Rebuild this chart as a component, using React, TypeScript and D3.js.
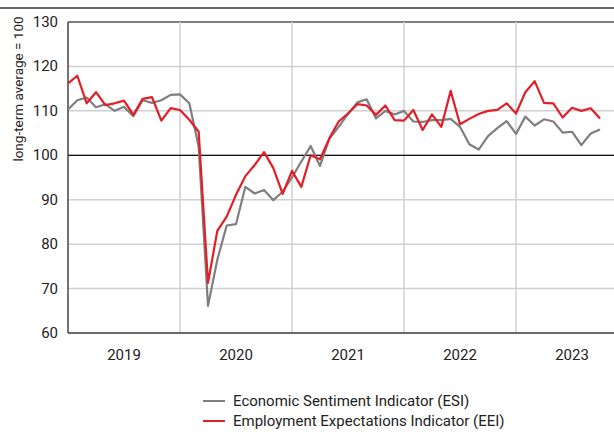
import React from "react";
import * as d3 from "d3";

const startYear = 2019;
const yearLabels = ["2019", "2020", "2021", "2022", "2023"];
const yTicks = [60, 70, 80, 90, 100, 110, 120, 130];

// Monthly values, Jan 2019 – Oct 2023
const esiValues = [
  110.3, 112.4, 113.0, 110.8, 111.5, 110.0, 110.9, 108.8, 112.4, 111.8, 112.4, 113.6,
  113.7, 111.7, 101.9, 66.1, 76.5, 84.2, 84.5, 92.9, 91.4, 92.2, 89.9, 91.8,
  95.0, 98.6, 102.1, 97.6, 103.7, 106.4, 109.3, 111.9, 112.6, 108.3, 110.0, 109.2,
  110.0, 107.6, 107.5, 107.9, 107.9, 108.2, 106.4, 102.5, 101.3, 104.3, 106.1, 107.7,
  104.8, 108.7, 106.7, 108.1, 107.6, 105.1, 105.3, 102.3, 104.9, 105.8,
];
const eeiValues = [
  116.2, 117.9, 111.7, 114.2, 111.3, 111.7, 112.3, 109.1, 112.7, 113.1, 107.8, 110.6,
  110.2, 108.0, 105.3, 71.3, 83.0, 86.2, 91.1, 95.3, 97.8, 100.7, 97.1, 91.3,
  96.5, 92.9, 100.0, 99.1, 103.8, 107.6, 109.4, 111.5, 111.2, 109.1, 111.2, 107.9,
  107.8, 110.2, 105.7, 109.2, 106.4, 114.5, 107.0, 108.2, 109.3, 110.0, 110.2, 111.7,
  109.4, 114.2, 116.7, 111.8, 111.7, 108.5, 110.7, 110.0, 110.6, 108.3,
];

const seriesNames = ["Economic Sentiment Indicator (ESI)", "Employment Expectations Indicator (EEI)"];
const seriesColors = ["#7f7f7f", "#e31e26"];

const W = 614;
const H = 434;
const M = { left: 68, right: 614, top: 22, bottom: 333 };
const FONT = "'Liberation Sans Narrow', 'Roboto', 'Liberation Sans', sans-serif";

export default function App() {
  const x = d3
    .scaleLinear()
    .domain([0, 12 * yearLabels.length])
    .range([M.left, M.left + 112 * yearLabels.length]);
  const y = d3.scaleLinear().domain([60, 130]).range([M.bottom, M.top]);

  const line = d3
    .line<number>()
    .x((_, i) => x(i))
    .y((d) => y(d))
    .curve(d3.curveLinear);

  const yearBounds = d3.range(1, yearLabels.length);

  return (
    <svg
      width={W}
      height={H}
      style={{ position: "absolute", left: 0, top: 0, fontFamily: FONT }}
    >
      <rect x={0} y={0} width={W} height={H} fill="#fff" />
      <line x1={0} x2={W} y1={8} y2={8} stroke="#333" strokeWidth={1.5} />

      {/* horizontal grid */}
      {yTicks.map((t) => (
        <line
          key={"g" + t}
          x1={M.left}
          x2={M.right}
          y1={y(t)}
          y2={y(t)}
          stroke={t === 130 ? "#555" : "#d0d0d0"}
          strokeWidth={t === 130 ? 1.5 : 1.5}
        />
      ))}
      {/* vertical grid */}
      {yearBounds.map((b) => (
        <line
          key={"v" + b}
          x1={x(b * 12)}
          x2={x(b * 12)}
          y1={M.top}
          y2={M.bottom}
          stroke="#d0d0d0"
          strokeWidth={1.5}
        />
      ))}
      {/* 100 reference */}
      <line x1={M.left} x2={M.right} y1={y(100)} y2={y(100)} stroke="#111" strokeWidth={1.3} />

      {/* axes */}
      <line x1={M.left} x2={M.left} y1={M.top} y2={M.bottom} stroke="#444" strokeWidth={1.5} />
      <line x1={M.left} x2={M.right} y1={M.bottom} y2={M.bottom} stroke="#444" strokeWidth={1.5} />

      {/* y tick labels */}
      {yTicks.map((t) => (
        <text
          key={"t" + t}
          x={58}
          y={y(t)}
          textAnchor="end"
          dominantBaseline="central"
          fontSize={15}
          fill="#222"
        >
          {t}
        </text>
      ))}
      <text
        transform={`translate(18,${89}) rotate(-90)`}
        textAnchor="middle"
        dominantBaseline="central"
        fontSize={13.5}
        fill="#222"
      >
        long-term average = 100
      </text>

      {/* x labels */}
      {yearLabels.map((yl, i) => (
        <text
          key={yl}
          x={x(i * 12 + 6)}
          y={355}
          textAnchor="middle"
          dominantBaseline="central"
          fontSize={15}
          fill="#222"
        >
          {yl}
        </text>
      ))}

      {/* series */}
      {[esiValues, eeiValues].map((vals, si) => (
        <path
          key={"s" + si}
          d={line(vals) || ""}
          fill="none"
          stroke={seriesColors[si]}
          strokeWidth={2.2}
          strokeLinejoin="round"
        />
      ))}

      {/* legend */}
      {seriesNames.map((n, i) => (
        <g key={n} transform={`translate(203,${401 + i * 20})`}>
          <line x1={0} x2={22} y1={0} y2={0} stroke={seriesColors[i]} strokeWidth={2} />
          <text x={30} y={0} dominantBaseline="central" fontSize={15} fill="#222">
            {n}
          </text>
        </g>
      ))}
    </svg>
  );
}
